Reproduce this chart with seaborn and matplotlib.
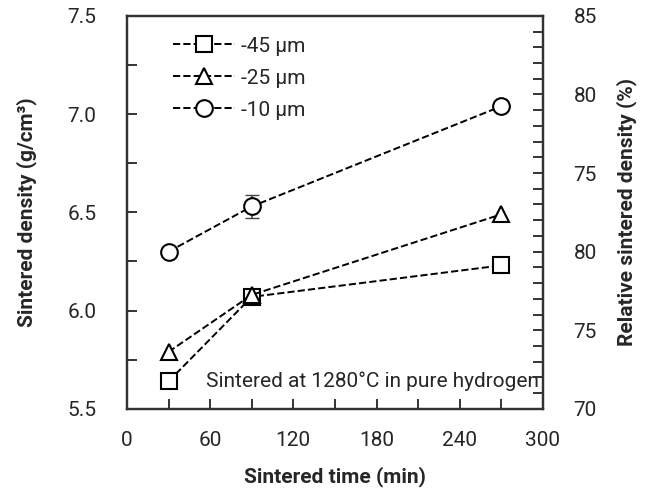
import numpy as np
import pandas as pd
import seaborn as sns
import matplotlib.pyplot as plt
from matplotlib.ticker import MultipleLocator

# values
times = [30, 90, 270]
dens_45 = [5.64, 6.07, 6.23]
dens_25 = [5.79, 6.08, 6.49]
dens_10 = [6.30, 6.53, 7.04]
err_10 = [0.0, 0.06, 0.0]
labels = ['-45 µm', '-25 µm', '-10 µm']
markers = ['s', '^', 'o']
right_ticklabels = ['70', '75', '80', '75', '80', '85']

df = pd.DataFrame({
    'time': times * 3,
    'density': dens_45 + dens_25 + dens_10,
    'powder': [labels[0]] * 3 + [labels[1]] * 3 + [labels[2]] * 3,
})

sns.set_style("ticks")
plt.rcParams['font.family'] = ['Roboto', 'DejaVu Sans']
plt.rcParams['xtick.direction'] = 'in'
plt.rcParams['ytick.direction'] = 'in'

fig = plt.figure(figsize=(6.51, 4.95), dpi=100)
ax = fig.add_axes([0.195, 0.174, 0.639, 0.794])

for lab, mk in zip(labels, markers):
    sub = df[df.powder == lab]
    sns.lineplot(data=sub, x='time', y='density', ax=ax, color='k',
                 linestyle='--', linewidth=1.4, marker=mk, markersize=12,
                 markerfacecolor='white', markeredgecolor='k',
                 markeredgewidth=1.5, label=lab, zorder=3)

# small error bar on the -10 um series
ax.errorbar(times, dens_10, yerr=err_10, fmt='none', ecolor='#444444',
            elinewidth=1.2, capsize=5, zorder=2)

ax.set_xlim(0, 300)
ax.set_ylim(5.5, 7.5)
ax.set_xticks(np.arange(0, 301, 60))
ax.xaxis.set_minor_locator(MultipleLocator(30))
ax.set_yticks([5.5, 6.0, 6.5, 7.0, 7.5])
ax.set_yticklabels(['5.5', '6.0', '6.5', '7.0', '7.5'])
ax.yaxis.set_minor_locator(MultipleLocator(0.25))
ax.tick_params(axis='both', which='both', length=7, width=1.4, labelsize=15,
               top=False, right=False, color='#333333')
ax.tick_params(axis='x', pad=16)
ax.tick_params(axis='y', pad=22)
for s in ax.spines.values():
    s.set_linewidth(1.6)
    s.set_color('#333333')

ax.set_xlabel('Sintered time (min)', fontsize=15, fontweight='bold', labelpad=12)
ax.set_ylabel('Sintered density (g/cm³)', fontsize=15, fontweight='bold', labelpad=22)

ax2 = ax.twinx()
ax2.set_ylim(0, 5)
ax2.set_yticks(range(6))
ax2.set_yticklabels(right_ticklabels)
ax2.yaxis.set_minor_locator(MultipleLocator(0.2))
ax2.tick_params(axis='y', which='both', direction='in', length=7, width=1.4,
                labelsize=15, pad=22, color='#333333')
ax2.set_ylabel('Relative sintered density (%)', fontsize=15, fontweight='bold',
               labelpad=14)
for s in ax2.spines.values():
    s.set_linewidth(1.6)
    s.set_color('#333333')

ax.text(0.99, 0.07, 'Sintered at 1280°C in pure hydrogen', transform=ax.transAxes,
        ha='right', va='center', fontsize=15,
        bbox=dict(facecolor='white', edgecolor='none', pad=1))

leg = ax.legend(loc='upper left', frameon=False, fontsize=15, handlelength=3.0,
                handletextpad=0.3, labelspacing=0.62, borderaxespad=0.6,
                bbox_to_anchor=(0.06, 1.0))

fig.savefig('out.png', dpi=100)
